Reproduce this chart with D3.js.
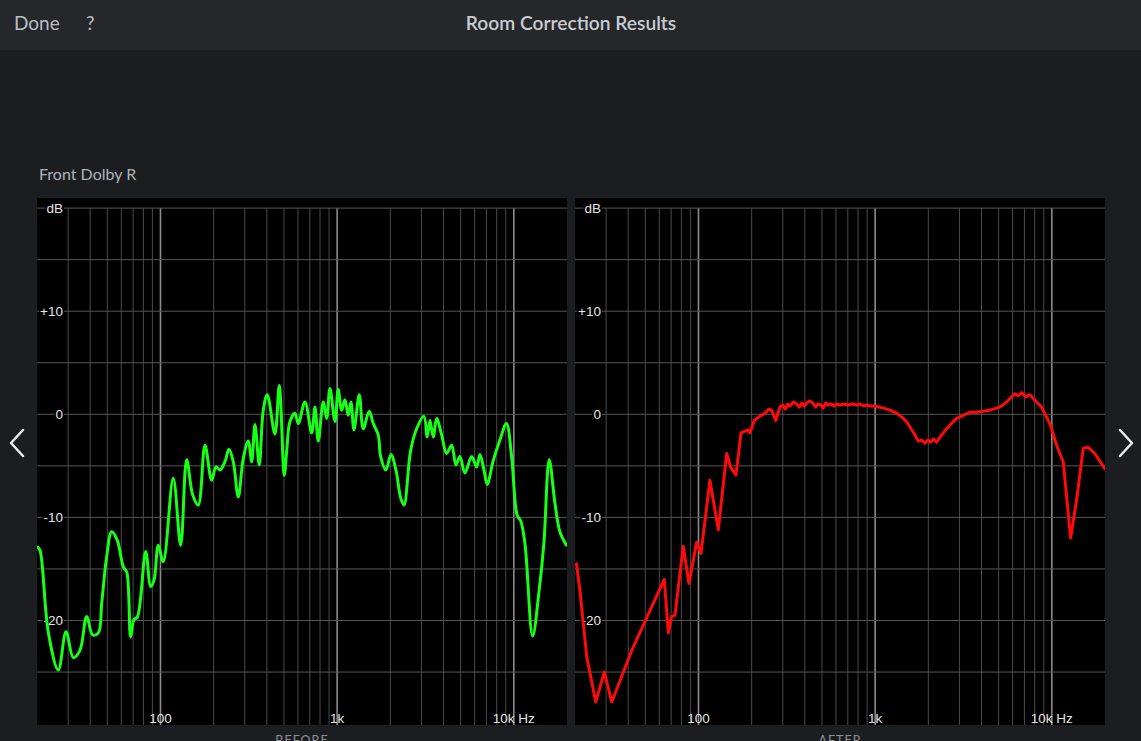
<!DOCTYPE html>
<html><head><meta charset="utf-8">
<script src="https://cdn.jsdelivr.net/npm/d3@7"></script>
<style>html,body{margin:0;padding:0;background:#1c1d20;overflow:hidden}</style>
</head><body><svg id="c" width="1141" height="741"></svg>
<script>
// ---- data ----
const beforeFreq = [20.2,20.8,23.2,26.4,29.2,32.1,35.0,38.2,41.3,44.5,46.5,49.6,52.9,56.9,61.6,64.4,67.8,70.8,73.9,82.5,88.0,91.9,97.2,103.7,118.1,130.1,140.7,152.1,163.6,178.6,194.9,206.1,217.1,231.7,244.1,258.2,275.6,294.1,314.0,328.2,342.6,362.3,381.8,402.2,444.6,470.2,501.9,517.8,540.5,576.9,602.3,657.3,717.5,748.9,781.7,834.3,872.1,910.5,971.6,1014,1060,1107,1155,1197,1245,1334,1405,1519,1601,1708,1763,1889,2016,2151,2288,2388,2606,2818,3099,3236,3351,3499,3658,3903,4166,4446,4702,4955,5287,5771,6159,6430,6774,7071,7646,8343,9082,9716,10453,10926,11557,12780,13925,14800,15860,17085,18235,19840];
const beforeDb = [-12.9,-13.2,-21.2,-24.8,-21.1,-23.6,-22.9,-19.6,-21.4,-21.2,-18.3,-13.8,-11.4,-12.2,-14.8,-15.3,-21.6,-19.9,-19.7,-13.3,-16.7,-16.1,-12.7,-14.3,-6.2,-12.7,-4.4,-7.8,-8.8,-3.0,-6.4,-5.1,-5.4,-4.6,-3.4,-4.6,-8.0,-4.3,-2.6,-4.6,-1.0,-4.9,0.4,1.9,-1.9,2.8,-5.9,-3.6,-0.7,0.1,-0.9,1.2,-1.8,0.7,-2.6,1.2,-0.4,2.5,-0.7,2.4,0.4,1.4,-0.1,1.2,-1.5,1.9,-1.4,0.3,-0.9,-2.0,-4.1,-5.4,-3.9,-5.4,-8.1,-8.8,-3.5,-1.4,-0.2,-2.2,-0.6,-2.2,-0.4,-2.0,-3.8,-3.0,-4.9,-4.1,-5.7,-4.1,-5.1,-3.9,-5.4,-6.8,-4.5,-2.5,-0.9,-4.1,-9.8,-10.3,-12.5,-21.5,-17.0,-12.5,-4.4,-8.6,-11.4,-12.7];
const afterFreq = [20.4,21.3,23.3,26.2,29.3,32.3,41.9,64.0,67.5,70.5,73.6,82.0,88.3,97.7,103.3,116.1,129.4,144.4,152.7,163.0,174.0,189.8,195.6,206.8,222,237.8,250,259.6,273.4,289.2,300,310,320,329.5,345,359.5,372,385,398,410,425,444.6,460,475,492,508.4,525,540,567.2,585,600,632.2,665,700,740,785.7,820,860,900,934.4,990,1050,1120,1212,1330,1442,1520,1609,1680,1754,1830,1913,1990,2060,2140,2228,2380,2539,2700,2892,3150,3440,3750,4090,4450,4871,5200,5549,5850,6183,6450,6745,7100,7516,8100,8754,9754,10644,11600,12127,12776,13815,15054,16065,17530,19970];
const afterDb = [-14.5,-17.0,-23.5,-27.9,-25.0,-27.9,-22.9,-16.0,-21.2,-19.6,-19.5,-12.8,-16.4,-12.4,-13.5,-6.4,-11.2,-3.8,-5.2,-5.9,-1.8,-1.5,-1.8,-0.6,-0.2,0.1,0.5,0.4,-0.6,0.7,0.9,0.5,1.0,0.8,1.2,1.0,0.7,1.1,0.8,1.1,1.3,1.1,0.7,1.0,0.9,0.6,1.1,0.9,1.0,0.8,1.0,0.9,1.0,0.9,1.0,0.9,1.0,0.8,0.9,0.8,0.8,0.7,0.6,0.4,0.1,-0.4,-0.8,-1.5,-2.0,-2.6,-2.5,-2.8,-2.5,-2.7,-2.4,-2.7,-2.0,-1.4,-0.9,-0.4,-0.1,0.2,0.2,0.3,0.4,0.6,0.8,1.2,1.6,2.0,1.8,2.1,1.7,1.9,1.3,0.7,-0.9,-3.0,-4.6,-8.0,-12.0,-8.3,-3.3,-3.2,-3.8,-5.3];
const yTickValues = [20, 10, 0, -10, -20];
const yTickLabels = ["dB", "+10", "0", "-10", "-20"];
const xTickValues = [100, 1000, 10000];
const xTickLabels = ["100", "1k", "10k Hz"];
const panelTitles = ["BEFORE", "AFTER"];
const channelName = "Front Dolby R";
const screenTitle = "Room Correction Results";

// ---- drawing ----
const svg = d3.select("#c");
const W = 1141, H = 741;
svg.append("rect").attr("width", W).attr("height", H).attr("fill", "#1c1d20");
svg.append("rect").attr("width", W).attr("height", 50).attr("fill", "#26272b");
svg.append("text").attr("x", 14).attr("y", 30).attr("fill", "#b9bdc4")
  .attr("font-family", "Lato").attr("font-size", 19).text("Done");
svg.append("text").attr("x", 86).attr("y", 30).attr("fill", "#b9bdc4")
  .attr("font-family", "Lato").attr("font-size", 19).text("?");
svg.append("text").attr("x", 571).attr("y", 30).attr("fill", "#c9cdd3")
  .attr("text-anchor", "middle").attr("font-family", "Lato").attr("font-weight", 600)
  .attr("font-size", 19.2).text(screenTitle);
svg.append("text").attr("x", 39).attr("y", 180).attr("fill", "#aeb3ba")
  .attr("font-family", "Lato").attr("font-size", 16).text(channelName);

const panels = [
  {x0: 37, x1: 567, freq: beforeFreq, db: beforeDb, color: "#18ff18", title: panelTitles[0]},
  {x0: 575, x1: 1105, freq: afterFreq, db: afterDb, color: "#ff0a0a", title: panelTitles[1]}
];
const panelTop = 198, panelBottom = 725;
const y = d3.scaleLinear().domain([20, -30]).range([208.1, 723.6]);

const minorFreqs = [];
[10, 100, 1000, 10000].forEach(d => { for (let m = 1; m <= 9; m++) { const f = m * d; if (f > 20 && f < 20000) minorFreqs.push(f); } });
const hLines = d3.range(20, -26, -5);

panels.forEach((p, i) => {
  const x = d3.scaleLog().domain([20, 20000]).range([p.x0, p.x1]);
  const g = svg.append("g");
  g.append("rect").attr("x", p.x0).attr("y", panelTop).attr("width", p.x1 - p.x0).attr("height", panelBottom - panelTop).attr("fill", "#000");
  g.selectAll("line.v").data(minorFreqs).enter().append("line")
    .attr("x1", d => x(d)).attr("x2", d => x(d)).attr("y1", y(20)).attr("y2", panelBottom)
    .attr("stroke", d => xTickValues.includes(d) ? "#8a8a8a" : "#4a4a4a")
    .attr("stroke-width", d => xTickValues.includes(d) ? 1.6 : 1);
  g.selectAll("line.h").data(hLines).enter().append("line")
    .attr("x1", p.x0).attr("x2", p.x1).attr("y1", d => y(d)).attr("y2", d => y(d))
    .attr("stroke", "#565656").attr("stroke-width", 1);
  g.selectAll("text.x").data(xTickValues).enter().append("text")
    .attr("x", d => x(d)).attr("y", 722.5).attr("text-anchor", "middle")
    .attr("fill", "#e4e4e4").attr("font-family", "Liberation Sans").attr("font-size", 13.5)
    .text((d, j) => xTickLabels[j]);
  // y labels (under the curve)
  const yl = g.selectAll("g.yl").data(yTickValues).enter().append("g");
  yl.append("text").attr("x", p.x0 + 26).attr("y", d => y(d)).attr("dy", "0.36em")
    .attr("text-anchor", "end").attr("fill", "#e4e4e4")
    .attr("font-family", "Liberation Sans").attr("font-size", 13.5)
    .text((d, j) => yTickLabels[j])
    .each(function() {
      const b = this.getBBox();
      d3.select(this.parentNode).insert("rect", "text")
        .attr("x", b.x - 1).attr("y", b.y + 3).attr("width", b.width + 2).attr("height", b.height - 6).attr("fill", "#000");
    });
  const cid = "clip" + i;
  svg.append("clipPath").attr("id", cid).append("rect")
    .attr("x", p.x0).attr("y", panelTop).attr("width", p.x1 - p.x0).attr("height", panelBottom - panelTop);
  const pts = p.freq.map((f, j) => [f, p.db[j]]);
  const line = d3.line().x(d => x(d[0])).y(d => y(d[1]))
    .curve(i === 0 ? d3.curveCatmullRom.alpha(0.5) : d3.curveLinear);
  g.append("path").attr("clip-path", `url(#${cid})`).attr("d", line(pts))
    .attr("fill", "none").attr("stroke", p.color).attr("stroke-width", 3)
    .attr("stroke-linejoin", "round").attr("stroke-linecap", "round");
  svg.append("text").attr("x", (p.x0 + p.x1) / 2).attr("y", 745).attr("text-anchor", "middle")
    .attr("fill", "#8e9198").attr("font-family", "Lato").attr("font-size", 12.5)
    .attr("letter-spacing", 1).text(p.title);
});

svg.append("path").attr("d", "M23,430 L11,443 L23,456").attr("fill", "none")
  .attr("stroke", "#ececec").attr("stroke-width", 2.5).attr("stroke-linecap", "round").attr("stroke-linejoin", "round");
svg.append("path").attr("d", "M1120,430 L1132,443 L1120,456").attr("fill", "none")
  .attr("stroke", "#ececec").attr("stroke-width", 2.5).attr("stroke-linecap", "round").attr("stroke-linejoin", "round");
</script></body></html>
